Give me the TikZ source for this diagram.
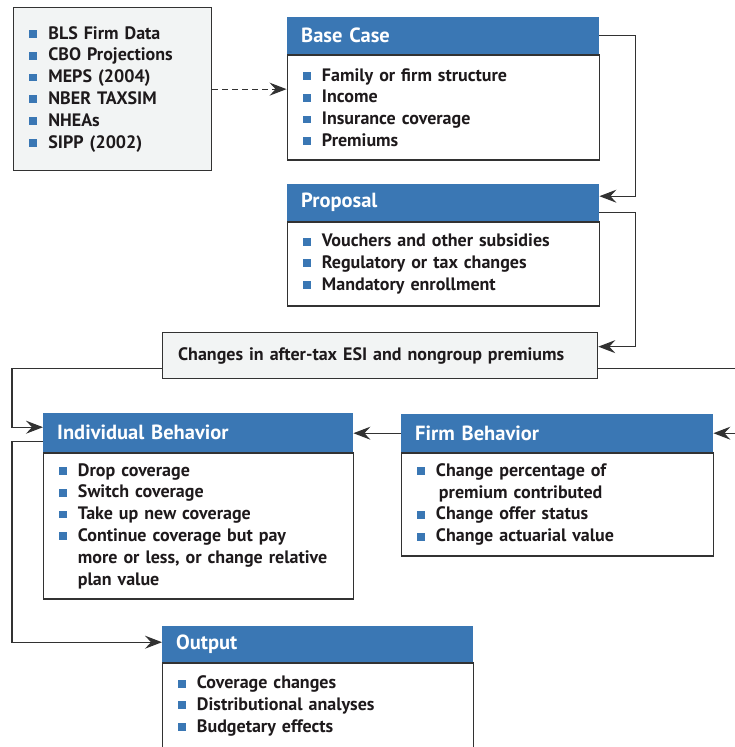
\documentclass[tikz,border=0pt]{standalone}
\usepackage{fontspec}
\setmainfont{PT Sans}
\usepackage{xcolor}
\usetikzlibrary{positioning,arrows.meta}

\definecolor{hdrblue}{RGB}{58,119,180}
\definecolor{boxgray}{RGB}{242,244,244}
\definecolor{linegray}{RGB}{50,50,50}
\definecolor{txtdark}{RGB}{30,26,28}
\newcommand{\sqbul}{\makebox[1.07em][l]{\textcolor{hdrblue}{\rule[0.07em]{0.44em}{0.44em}}}}
\newcommand{\sqind}{\hspace*{1.07em}}

\begin{document}
\begin{tikzpicture}[x=1pt,y=-1pt,
    hdr/.style={fill=hdrblue,text=white,font=\fontsize{20.5}{23}\selectfont\bfseries,
      inner xsep=14pt,inner ysep=0pt,align=left,anchor=north west},
    body/.style={draw=linegray,line width=1.3pt,fill=white,text=txtdark,
      font=\fontsize{18}{21.8}\selectfont\bfseries,inner xsep=15.5pt,inner ysep=0pt,align=left},
    graybox/.style={body,fill=boxgray,anchor=north west},
    tip/.tip={Stealth[length=17pt,width=13pt,inset=6pt]},
    conn/.style={draw=linegray,line width=1.2pt,-tip}]

  % Ventana
  \clip (0,0) rectangle (735,747);

  % Fuentes de datos
  \node[graybox,text width=167pt,minimum height=163pt] (data) at (13,7)
    {\sqbul BLS Firm Data\\ \sqbul CBO Projections\\ \sqbul MEPS (2004)\\
     \sqbul NBER TAXSIM\\ \sqbul NHEAs\\ \sqbul SIPP (2002)};

  % Base Case
  \node[hdr,text width=284pt,minimum height=37pt] (basehdr) at (287,17) {Base Case};
  \node[body,text width=281pt,minimum height=105pt,below=0pt of basehdr] (basebody)
    {\sqbul Family or firm structure\\ \sqbul Income\\ \sqbul Insurance coverage\\ \sqbul Premiums};

  % Proposal
  \node[hdr,text width=284pt,minimum height=37pt] (prophdr) at (287,184) {Proposal};
  \node[body,text width=281pt,minimum height=84pt,below=0pt of prophdr] (propbody)
    {\sqbul Vouchers and other subsidies\\ \sqbul Regulatory or tax changes\\ \sqbul Mandatory enrollment};

  % Cambios en primas
  \node[graybox,text width=404pt,minimum height=46pt] (changes) at (162,332)
    {Changes in after-tax ESI and nongroup premiums};

  % Individual Behavior
  \node[hdr,text width=282pt,minimum height=39pt] (indivhdr) at (43,413) {Individual Behavior};
  \node[body,text width=279pt,minimum height=146pt,below=0pt of indivhdr] (indivbody)
    {\sqbul Drop coverage\\ \sqbul Switch coverage\\ \sqbul Take up new coverage\\
     \sqbul Continue coverage but pay\\ \sqind more or less, or change relative\\ \sqind plan value};

  % Firm Behavior
  \node[hdr,text width=284pt,minimum height=38pt] (firmhdr) at (401,414) {Firm Behavior};
  \node[body,text width=281pt,minimum height=103pt,below=0pt of firmhdr] (firmbody)
    {\sqbul Change percentage of\\ \sqind\,premium contributed\\ \sqbul Change offer status\\ \sqbul Change actuarial value};

  % Output
  \node[hdr,text width=283pt,minimum height=36pt] (outhdr) at (162,626) {Output};
  \node[body,text width=280pt,minimum height=86pt,below=0pt of outhdr] (outbody)
    {\sqbul Coverage changes\\ \sqbul Distributional analyses\\ \sqbul Budgetary effects};

  % Conectores
  \draw[conn,dashed,dash pattern=on 6pt off 4pt] (data.east) -- (data.east -| basebody.west);
  \draw[conn] (basehdr.east) -- ++(36,0) |- ([yshift=6.5pt]prophdr.east);
  \draw[conn] ([yshift=-9.5pt]prophdr.east) -- ++(36,0) |- ([yshift=9pt]changes.east);
  \draw[conn] ([yshift=-13pt]changes.west) -- ++(-150,0) |- ([yshift=5.5pt]indivhdr.west);
  \draw[conn] ([yshift=-13pt]changes.east) -- ++(160,0) |- (firmhdr.east);
  \draw[conn] (firmhdr.west) -- (firmhdr.west -| indivhdr.east);
  \draw[conn] ([yshift=-8.5pt]indivhdr.west) -- ++(-31,0) |- ([yshift=2pt]outhdr.west);
\end{tikzpicture}
\end{document}
